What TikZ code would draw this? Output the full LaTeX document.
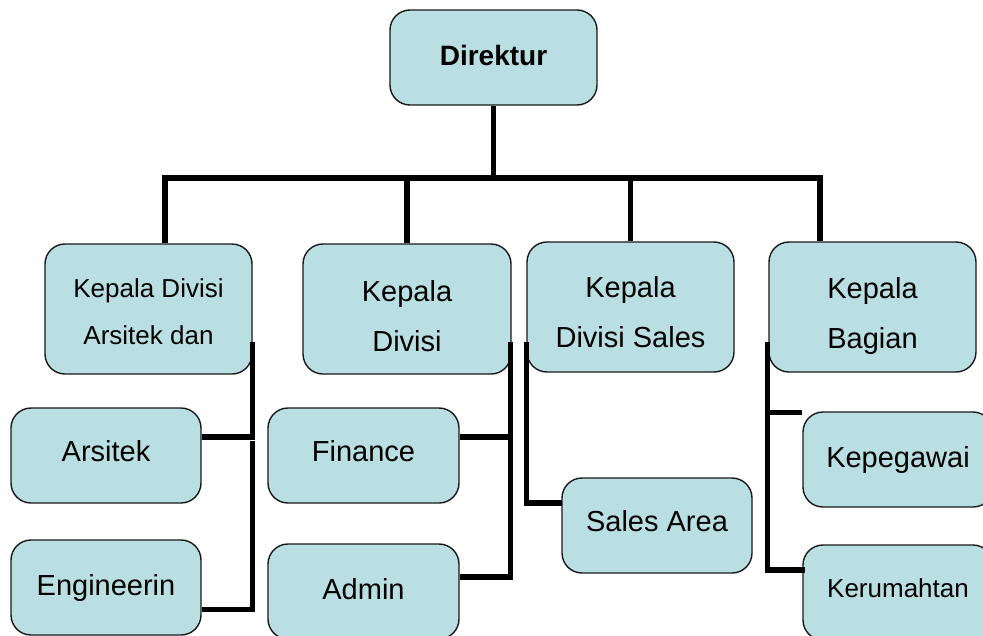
\documentclass[tikz,border=0pt]{standalone}
\usepackage{fontspec}
\setmainfont{Liberation Sans}
\usetikzlibrary{calc}
\definecolor{boxfill}{RGB}{186,223,226}
\definecolor{boxline}{RGB}{25,25,25}
\begin{document}
\begin{tikzpicture}[x=1pt,y=-1pt,
  box/.style={draw=boxline, line width=1.4pt, fill=boxfill, rounded corners=20pt, inner sep=0pt},
  wide/.style={minimum width=207pt, minimum height=130pt},
  small/.style={minimum width=190pt, minimum height=95pt},
  lbl/.style={font=\fontsize{29}{50}\selectfont, align=center, inner sep=0pt},
  lbls/.style={font=\fontsize{26}{47}\selectfont, align=center, inner sep=0pt},
  wire/.style={line width=5.5pt, line join=miter, draw=black}]
\useasboundingbox (0,0) rectangle (983,635);
\clip (0,0) rectangle (983,635);
% boxes
\node[box, minimum width=207pt, minimum height=95pt,
  label={[lbl,font=\fontsize{28}{34}\selectfont\bfseries,yshift=2.5pt]center:Direktur}] (dir) at (493.5,57.5) {};
\node[box, wide, label={[lbls,yshift=-3.2pt]center:{Kepala Divisi\\Arsitek dan}}] (k1) at (148.5,309) {};
\node[box, wide, minimum width=208pt, label={[lbl,yshift=-7.6pt]center:{Kepala\\Divisi}}] (k2) at (407,309) {};
\node[box, wide, label={[lbl,yshift=-5.6pt]center:{Kepala\\Divisi Sales}}] (k3) at (630.5,307) {};
\node[box, wide, label={[lbl,yshift=-8.7pt]center:{Kepala\\Bagian}}] (k4) at (872.5,307) {};
\node[box, small, label={[lbl,yshift=3.9pt]center:Arsitek}] (ars) at (106,455.5) {};
\node[box, small, label={[lbl,yshift=0pt]center:Engineerin}] (eng) at (106,587.5) {};
\node[box, small, minimum width=191pt, label={[lbl,yshift=3.9pt]center:Finance}] (fin) at (363.5,455.5) {};
\node[box, small, minimum width=191pt, label={[lbl,yshift=1.9pt]center:Admin}] (adm) at (363.5,591.5) {};
\node[box, small, label={[lbl,yshift=3.9pt]center:Sales Area}] (sal) at (657,525.5) {};
\node[box, small, label={[lbl,yshift=0pt]center:Kepegawai}] (peg) at (898,459.5) {};
\node[box, small, label={[lbls,yshift=4.8pt]center:Kerumahtan}] (rum) at (898,592.5) {};
% top tree
\coordinate (bus) at (0,178);
\coordinate (b1) at (165,178);
\coordinate (b4) at (820,178);
\draw[wire] (dir.south) -- (dir.south |- bus);
\draw[wire] (b1 |- k1.north) -- (b1) -- (b4) -- (b4 |- k4.north);
\draw[wire] (k2.north |- bus) -- (k2.north);
\draw[wire] (k3.north |- bus) -- (k3.north);
% Arsitek division
\draw[wire] ($(k1.east)+(0,33)$) |- ($(ars.east)+(0,-18.5)$);
\draw[wire] ($(k1.east)+(0,132)$) |- ($(eng.east)+(0,22)$);
% Divisi
\draw[wire] ($(k2.east)+(-1,33)$) |- ($(adm.east)+(0,-14.5)$);
\draw[wire] ($(fin.east)+(0,-18.5)$) -- ++(51,0);
% Sales
\draw[wire] ($(k3.west)+(0,35)$) |- ($(sal.west)+(1,-22.5)$);
% Bagian
\draw[wire] ($(k4.west)+(-1,35)$) |- ($(rum.west)+(3,-22.5)$);
\draw[wire] ($(peg.north west)+(0,1)$) -- ++(-35,0);
\end{tikzpicture}
\end{document}
